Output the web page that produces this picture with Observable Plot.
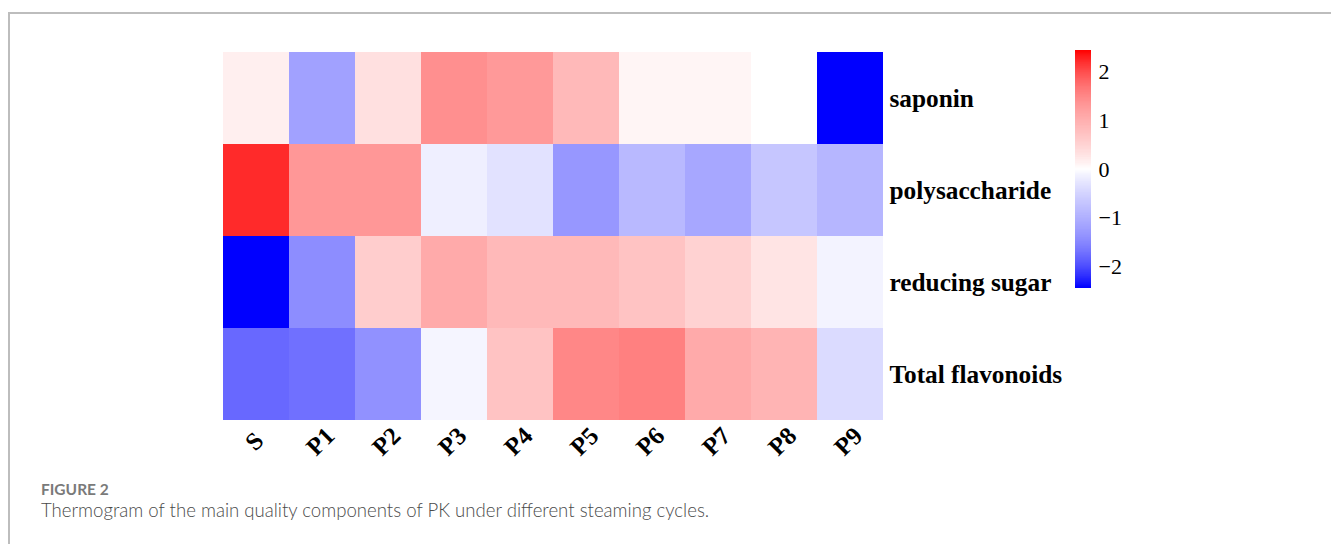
<!DOCTYPE html>
<html>
<head>
<meta charset="utf-8">
<script src="https://cdn.jsdelivr.net/npm/d3@7"></script>
<script src="https://cdn.jsdelivr.net/npm/@observablehq/plot@0.6"></script>
<style>
  html, body { margin: 0; padding: 0; background: #fff; }
  #page { position: relative; width: 1331px; height: 544px; overflow: hidden; }
  #frame { position: absolute; left: 8px; top: 12px; width: 1340px; height: 560px; border-left: 2px solid #bdbdbd; border-top: 2px solid #bdbdbd; box-sizing: border-box; }
  #heat { position: absolute; left: 0; top: 0; }
  #bar { position: absolute; left: 1050px; top: 0; }
  #fig { position: absolute; left: 41px; top: 480px; font-family: Lato, "Open Sans", sans-serif; font-weight: 700; font-size: 15.5px; color: #7a7a7a; }
  #cap { position: absolute; left: 41px; top: 499px; font-family: Lato, "Open Sans", sans-serif; font-weight: 300; font-size: 18.6px; color: #4a4a4a; }
</style>
</head>
<body>
<div id="page">
  <div id="frame"></div>
  <div id="heat"></div>
  <div id="bar"></div>
  <div id="fig">FIGURE 2</div>
  <div id="cap">Thermogram of the main quality components of PK under different steaming cycles.</div>
</div>
<script>
const samples = ["S", "P1", "P2", "P3", "P4", "P5", "P6", "P7", "P8", "P9"];
const components = ["saponin", "polysaccharide", "reducing sugar", "Total flavonoids"];
const saponin        = [0.15, -0.90, 0.30, 1.08, 0.98, 0.67, 0.10, 0.10, 0.00, -2.45];
const polysaccharide = [2.05, 1.00, 1.00, -0.15, -0.28, -1.00, -0.67, -0.85, -0.55, -0.70];
const reducingSugar  = [-2.45, -1.10, 0.48, 0.82, 0.67, 0.67, 0.58, 0.43, 0.26, -0.12];
const flavonoids     = [-1.45, -1.37, -1.06, -0.10, 0.58, 1.15, 1.22, 0.82, 0.72, -0.35];
const colorTicks = [-2, -1, 0, 1, 2];
const colorDomain = [-2.45, 0, 2.45];

const rows = [saponin, polysaccharide, reducingSugar, flavonoids];
const table = [];
components.forEach((c, i) => samples.forEach((s, j) => table.push({component: c, sample: s, value: rows[i][j]})));

const colorOpts = {type: "linear", domain: colorDomain, range: ["#0000ff", "#ffffff", "#ff0000"], interpolate: "rgb", clamp: true};
const serif = "'Liberation Serif', 'Times New Roman', serif";

const heat = Plot.plot({
  width: 1331, height: 470,
  marginLeft: 222, marginRight: 447, marginTop: 50, marginBottom: 49,
  style: {background: "transparent", fontFamily: serif},
  x: {domain: samples, padding: 0, axis: null},
  y: {domain: components, padding: 0, axis: null},
  color: colorOpts,
  marks: [
    Plot.cell(table, {x: "sample", y: "component", fill: "value", inset: 0}),
    Plot.text(samples, {x: d => d, frameAnchor: "bottom", dy: 20, dx: -2, rotate: -45, text: d => d,
      fontSize: 25, fontWeight: "bold", fill: "#000", textAnchor: "middle", lineAnchor: "middle"}),
    Plot.text(components, {y: d => d, frameAnchor: "right", dx: 5, text: d => d,
      fontSize: 25.3, fontWeight: "bold", fill: "#000", textAnchor: "start", lineAnchor: "middle"})
  ]
});
document.getElementById("heat").appendChild(heat);

const steps = d3.range(0, 240).map(i => {
  const a = colorDomain[0] + (colorDomain[2] - colorDomain[0]) * i / 240;
  const b = colorDomain[0] + (colorDomain[2] - colorDomain[0]) * (i + 1) / 240;
  return {y1: a, y2: b, v: (a + b) / 2};
});
const bar = Plot.plot({
  width: 120, height: 300,
  marginLeft: 25, marginRight: 79, marginTop: 50, marginBottom: 12,
  style: {background: "transparent", fontFamily: serif},
  x: {domain: [0, 1], axis: null},
  y: {domain: [colorDomain[0], colorDomain[2]], axis: null},
  color: colorOpts,
  marks: [
    Plot.rect(steps, {x1: 0, x2: 1, y1: "y1", y2: "y2", fill: "v", inset: 0}),
    Plot.axisY(colorTicks, {anchor: "right", tickSize: 0, tickPadding: 7, fontSize: 22, fill: "#000", tickFormat: d => d < 0 ? "\u2212" + Math.abs(d) : String(d)})
  ]
});
document.getElementById("bar").appendChild(bar);
</script>
</body>
</html>
